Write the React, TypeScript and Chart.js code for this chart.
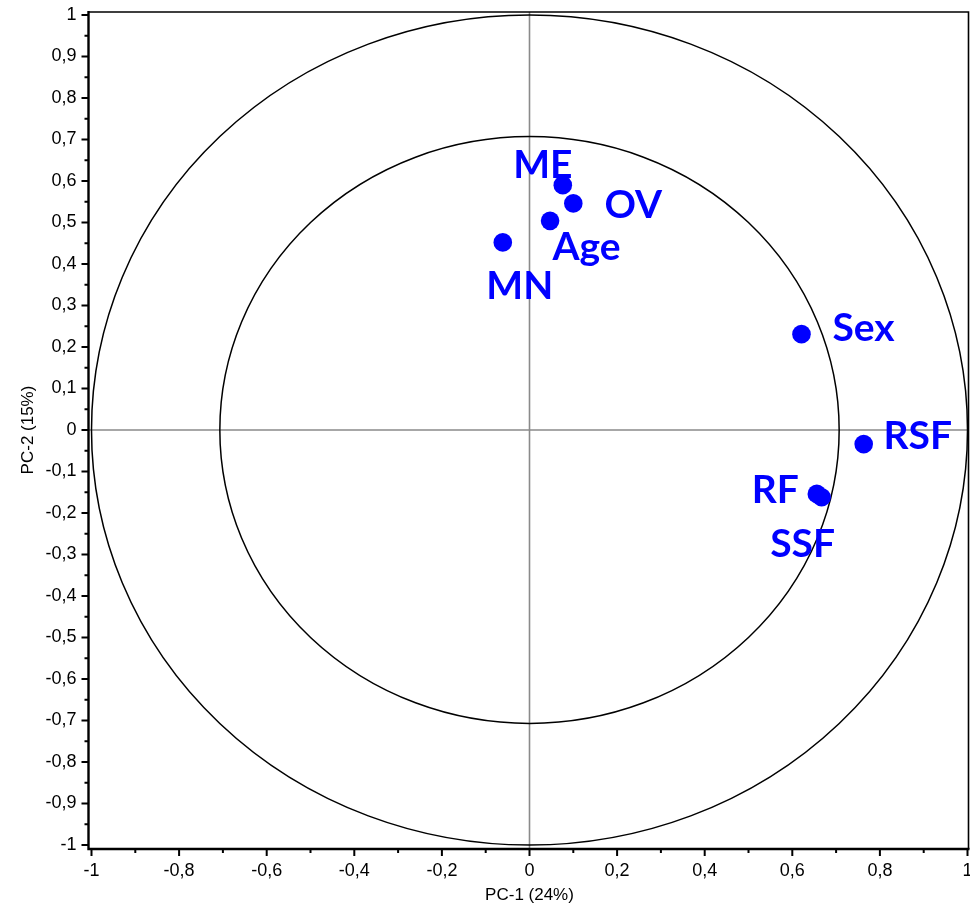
import React, { useEffect, useRef } from 'react';
import { Chart, registerables } from 'chart.js';

Chart.register(...registerables);

// ---- data ----
const variables = ['ME', 'OV', 'Age', 'MN', 'Sex', 'RSF', 'RF', 'SSF'];
const pc1 = [0.076, 0.1, 0.047, -0.061, 0.621, 0.763, 0.656, 0.667];
const pc2 = [0.59, 0.546, 0.504, 0.452, 0.231, -0.034, -0.154, -0.162];
const circleRadii = [1, 0.707];
const xTitle = 'PC-1 (24%)';
const yTitle = 'PC-2 (15%)';

// ---- label placement (pixel offsets of text centre from its point) ----
const labelOffsets: Record<string, [number, number]> = {
  ME: [-20, -21.5],
  OV: [60, 1],
  Age: [36.5, 25],
  MN: [17, 43],
  Sex: [62, -7],
  RSF: [54, -9],
  RF: [-41.5, -5],
  SSF: [-19, 46],
};

const BLUE = '#0000ff';
const LABEL_SIZE = 39;

function fmt(v: number): string {
  const r = Math.round(v * 10) / 10;
  return String(r).replace('.', ',');
}

const biplotPlugin = {
  id: 'biplot',
  beforeDatasetsDraw(chart: any) {
    const { ctx, chartArea } = chart;
    const x = chart.scales.x;
    const y = chart.scales.y;
    const L = chartArea.left - 3;
    const R = chartArea.right + 1;
    const T = chartArea.top - 3;
    const B = chartArea.bottom + 4;
    const x0 = x.getPixelForValue(0);
    const y0 = y.getPixelForValue(0);
    ctx.save();
    // zero lines
    ctx.strokeStyle = '#8a8a8a';
    ctx.lineWidth = 1.6;
    ctx.beginPath();
    ctx.moveTo(x0, T);
    ctx.lineTo(x0, B);
    ctx.moveTo(L, y0);
    ctx.lineTo(R, y0);
    ctx.stroke();
    // circles
    ctx.strokeStyle = '#000';
    ctx.lineWidth = 1.5;
    for (const r of circleRadii) {
      const rx = x.getPixelForValue(r) - x0;
      const ry = y0 - y.getPixelForValue(r);
      ctx.beginPath();
      ctx.ellipse(x0, y0, rx, ry, 0, 0, Math.PI * 2);
      ctx.stroke();
    }
    // frame
    ctx.lineWidth = 1.6;
    ctx.beginPath();
    ctx.moveTo(L, T);
    ctx.lineTo(R, T);
    ctx.lineTo(R, B);
    ctx.stroke();
    ctx.lineWidth = 2.4;
    ctx.beginPath();
    ctx.moveTo(L, T - 1);
    ctx.lineTo(L, B);
    ctx.lineTo(R + 1, B);
    ctx.stroke();
    // tick marks
    ctx.lineWidth = 2;
    ctx.beginPath();
    for (const t of x.ticks) {
      const px = x.getPixelForValue(t.value);
      const major = Math.round(t.value * 10) % 2 === 0;
      ctx.moveTo(px, B);
      ctx.lineTo(px, B + (major ? 7 : 4));
    }
    for (const t of y.ticks) {
      const py = y.getPixelForValue(t.value);
      const major = Math.round(t.value * 20) % 2 === 0;
      ctx.moveTo(L, py);
      ctx.lineTo(L - (major ? 7 : 4), py);
    }
    ctx.stroke();
    ctx.restore();
  },
  afterDatasetsDraw(chart: any) {
    const { ctx } = chart;
    const meta = chart.getDatasetMeta(0);
    ctx.save();
    ctx.fillStyle = BLUE;
    ctx.font = `bold ${LABEL_SIZE}px Lato`;
    ctx.textAlign = 'center';
    ctx.textBaseline = 'alphabetic';
    meta.data.forEach((pt: any, i: number) => {
      const name = variables[i];
      const off = labelOffsets[name] || [0, 0];
      ctx.fillText(name, pt.x + off[0], pt.y + off[1] + LABEL_SIZE * 0.358);
    });
    ctx.restore();
  },
};

export default function App() {
  const ref = useRef<HTMLCanvasElement>(null);
  useEffect(() => {
    document.body.style.margin = '0';
    const canvas = ref.current;
    if (!canvas) return;
    const chart = new Chart(canvas, {
      type: 'scatter',
      data: {
        datasets: [
          {
            data: variables.map((_, i) => ({ x: pc1[i], y: pc2[i] })),
            backgroundColor: BLUE,
            borderWidth: 0,
            pointRadius: 9.3,
            pointHoverRadius: 9.3,
          },
        ],
      },
      options: {
        animation: false,
        responsive: true,
        maintainAspectRatio: false,
        layout: { autoPadding: false, padding: { top: 15, right: 2.5, left: 0, bottom: 0 } },
        plugins: { legend: { display: false }, tooltip: { enabled: false } },
        scales: {
          x: {
            type: 'linear',
            min: -1,
            max: 1,
            grid: { display: false, drawTicks: false },
            border: { display: false },
            ticks: {
              stepSize: 0.1,
              autoSkip: false,
              maxRotation: 0,
              padding: 15,
              color: '#000',
              font: { family: 'Liberation Sans, Arial', size: 18 },
              callback: (v: any) => (Math.round(Number(v) * 10) % 2 === 0 ? fmt(Number(v)) : ''),
            },
            title: {
              display: true,
              text: xTitle,
              color: '#000',
              font: { family: 'Liberation Sans, Arial', size: 17 },
              padding: { top: 0, bottom: 1 },
            },
            afterFit: (s: any) => {
              s.height = 62;
              s.paddingLeft = 0;
              s.paddingRight = 0;
            },
          },
          y: {
            type: 'linear',
            min: -1,
            max: 1,
            grid: { display: false, drawTicks: false },
            border: { display: false },
            ticks: {
              stepSize: 0.05,
              autoSkip: false,
              padding: 15,
              color: '#000',
              font: { family: 'Liberation Sans, Arial', size: 18 },
              callback: (v: any) => (Math.round(Number(v) * 20) % 2 === 0 ? fmt(Number(v)) : ''),
            },
            title: {
              display: true,
              text: yTitle,
              color: '#000',
              font: { family: 'Liberation Sans, Arial', size: 17 },
              padding: { top: 18, bottom: 0 },
            },
            afterFit: (s: any) => {
              s.width = 91.5;
              s.paddingTop = 0;
              s.paddingBottom = 0;
            },
          },
        },
      },
      plugins: [biplotPlugin],
    });
    return () => chart.destroy();
  }, []);
  return (
    <div style={{ width: 970, height: 907, position: 'relative' }}>
      <canvas ref={ref} />
    </div>
  );
}
